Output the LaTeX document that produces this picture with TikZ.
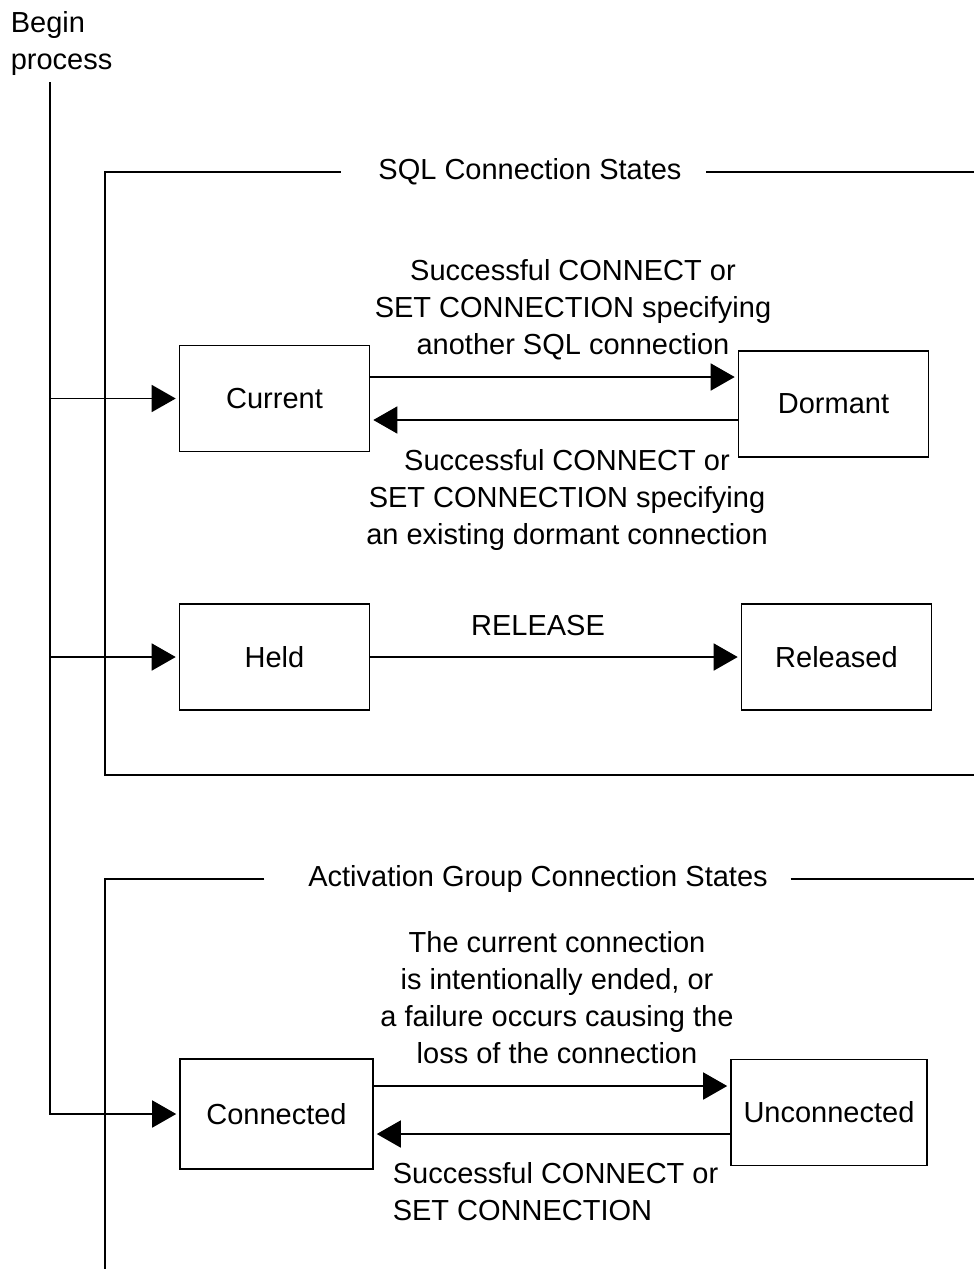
\documentclass[tikz,border=0pt]{standalone}
\usepackage{fontspec}
\setmainfont{Liberation Sans}
\usetikzlibrary{arrows.meta}

\begin{document}
\begin{tikzpicture}[x=1pt, y=-1pt, line width=1.6pt,
  font=\fontsize{29}{37}\selectfont,
  statebox/.style={draw, minimum width=190pt, minimum height=106pt, inner sep=4pt},
  flow/.style={-{Triangle[length=24pt, width=27pt]}, shorten >=3pt},
  caption/.style={align=center, inner sep=0pt}]
	\useasboundingbox (0,0) rectangle (974,1269);

	% states
	\node[statebox] (current) at (274.5,398.5) {Current};
	\node[statebox] (dormant) at (833.5,404) {Dormant};
	\node[statebox] (held) at (274.5,657) {Held};
	\node[statebox] (released) at (836.5,657) {Released};
	\node[statebox, minimum width=193pt, minimum height=110pt] (connected) at (276.5,1114) {Connected};
	\node[statebox, minimum width=196pt] (unconnected) at (829,1112.5) {Unconnected};

	% begin process
	\node[align=left, anchor=north west, inner sep=0pt] (begin) at (10,11) {Begin\\process};
	\coordinate (start) at (50,82);
	\draw[flow] (start) |- (connected);
	\draw[flow] (start |- current) -- (current);
	\draw[flow] (start |- held) -- (held);

	% frames
	\node[inner sep=0pt] (sqltitle) at (530,172) {SQL Connection States};
	\draw ([xshift=-37pt]sqltitle.west) -| (105,775) -- (974,775);
	\draw ([xshift=24pt]sqltitle.east) -- (974,172);
	\node[inner sep=0pt] (agtitle) at (538,879) {Activation Group Connection States};
	\draw ([xshift=-43pt]agtitle.west) -| (105,1269);
	\draw ([xshift=22pt]agtitle.east) -- (974,879);

	% transitions
	\coordinate (c1) at ([yshift=21.5pt]current.east);
	\coordinate (c2) at ([yshift=-21.5pt]current.east);
	\draw[flow] (c1) -- (c1 -| dormant.west);
	\draw[flow] (c2 -| dormant.west) -- (c2);
	\draw[flow] (held) -- (released);
	\coordinate (c3) at ([yshift=28pt]connected.east);
	\coordinate (c4) at ([yshift=-20pt]connected.east);
	\draw[flow] (c3) -- (c3 -| unconnected.west);
	\draw[flow] (c4 -| unconnected.west) -- (c4);

	% labels
	\node[caption] (sqlgo) at (573,310) {Successful CONNECT or\\SET CONNECTION specifying\\another SQL connection};
	\node[caption] (sqlback) at (567,500) {Successful CONNECT or\\SET CONNECTION specifying\\an existing dormant connection};
	\node[caption] (release) at (538,626) {RELEASE};
	\node[caption] (aggo) at (557,998) {The current connection\\is intentionally ended, or\\a failure occurs causing the\\loss of the connection};
	\node[caption, align=left, anchor=west] (agback) at (392,1191.5) {Successful CONNECT or\\SET CONNECTION};
\end{tikzpicture}
\end{document}
